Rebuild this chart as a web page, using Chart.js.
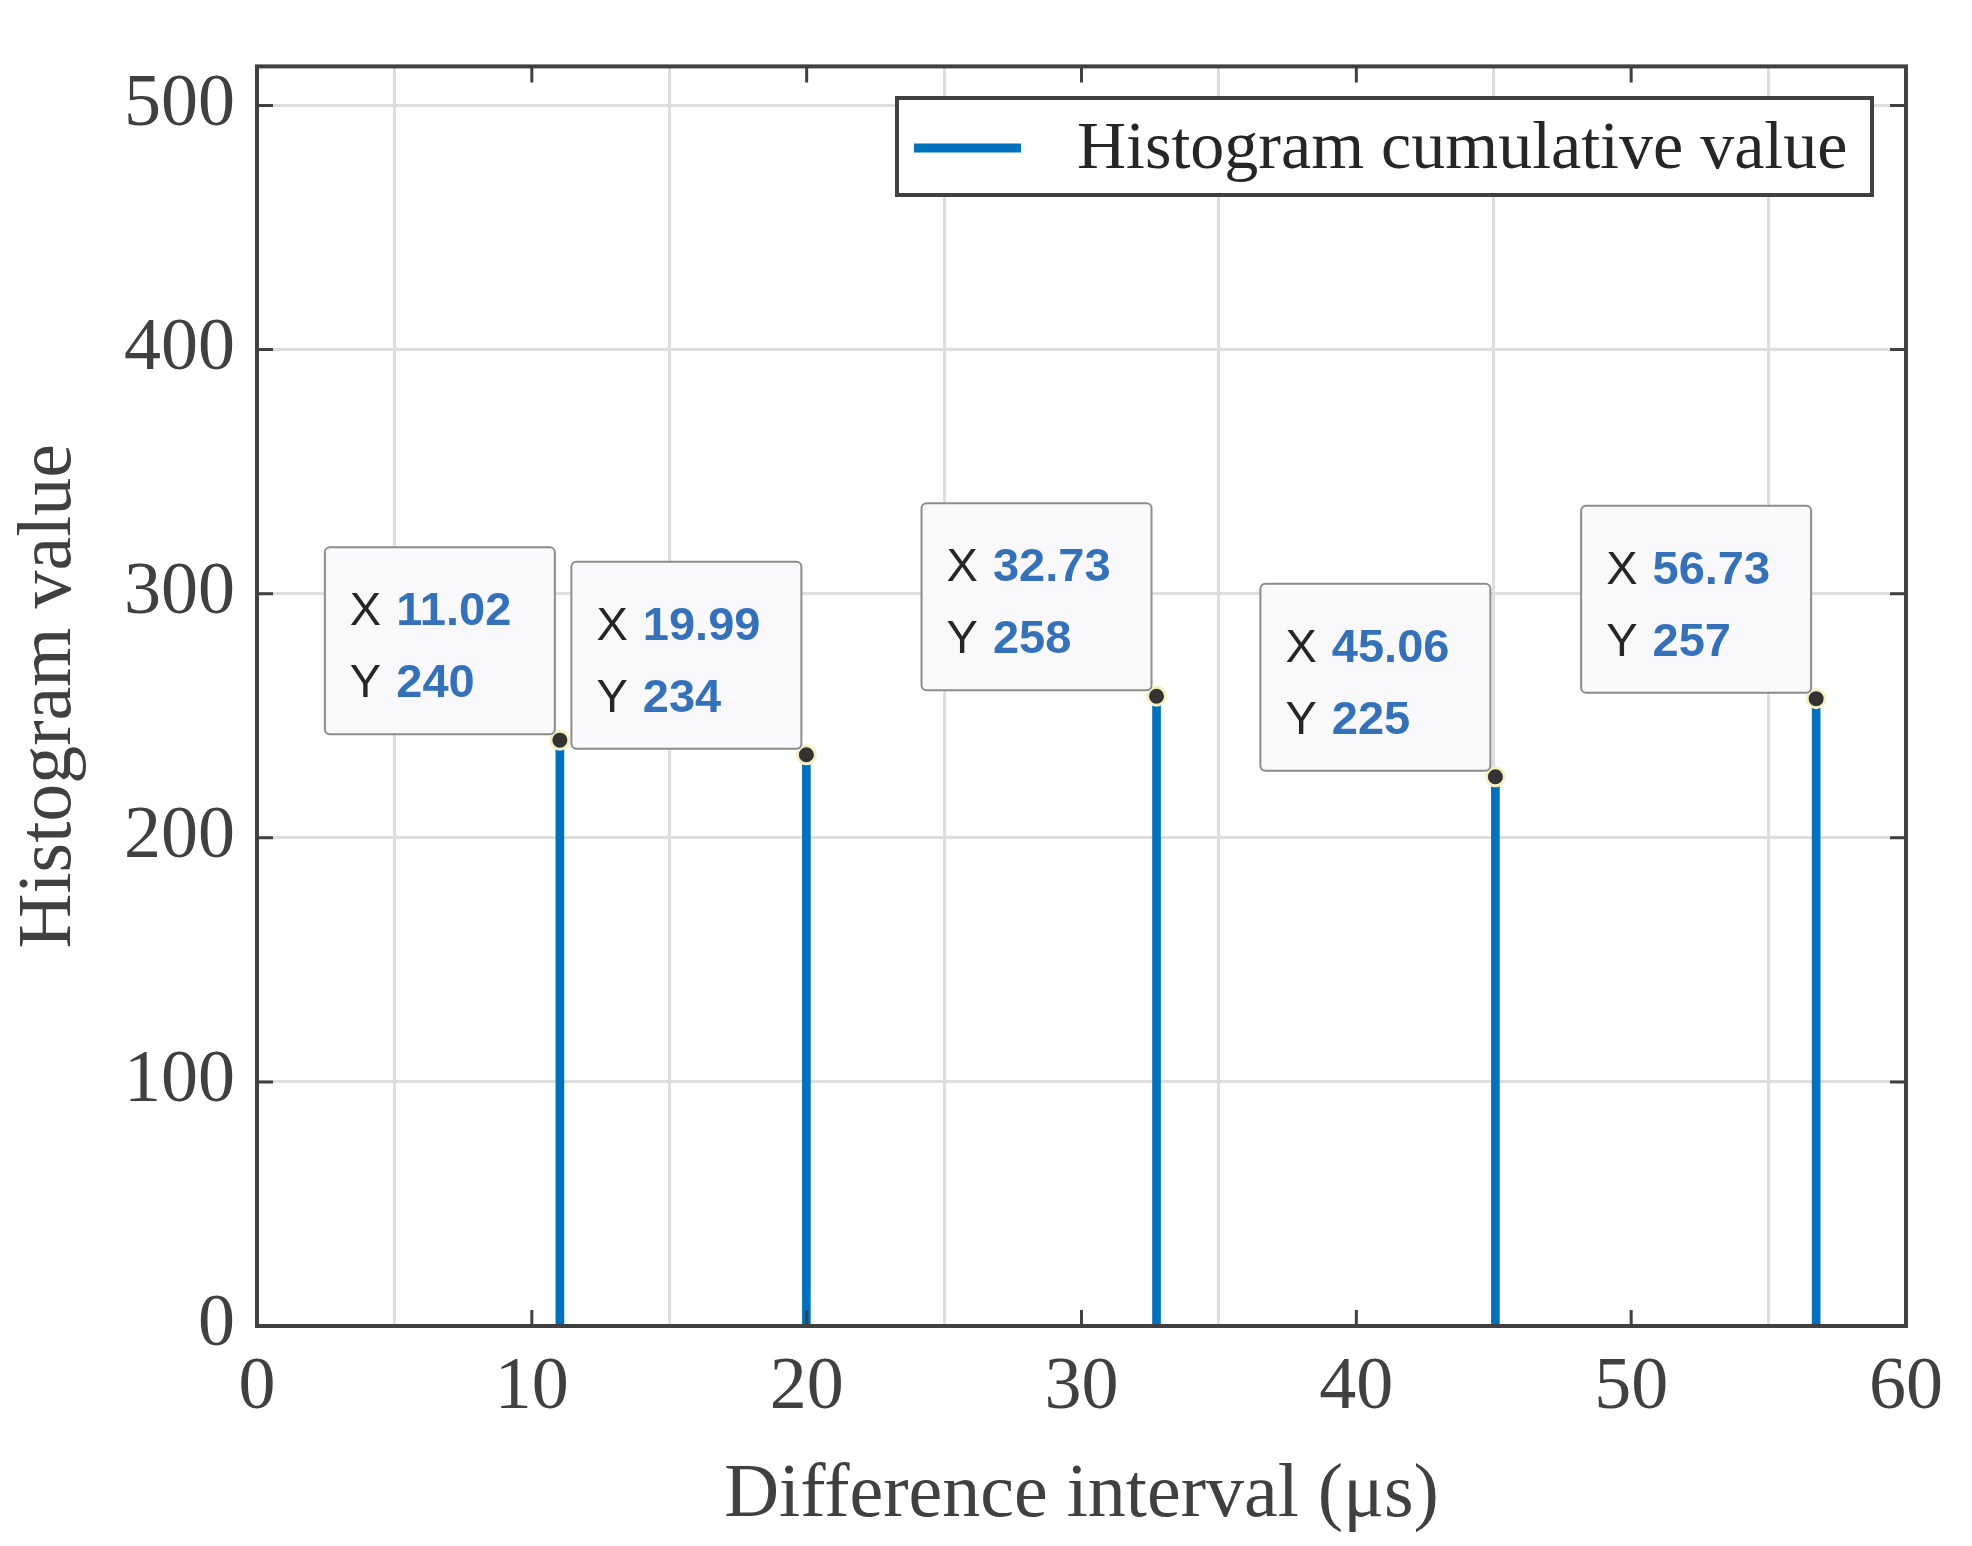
<!DOCTYPE html>
<html><head><meta charset="utf-8">
<script src="https://cdn.jsdelivr.net/npm/chart.js@4/dist/chart.umd.min.js"></script>
<style>html,body{margin:0;padding:0;background:#fff}#wrap{width:1972px;height:1546px}</style>
</head><body><div id="wrap"><canvas id="c" width="1972" height="1546"></canvas></div>
<script>
const xValues = [11.02, 19.99, 32.73, 45.06, 56.73];
const yValues = [240, 234, 258, 225, 257];
const xTicks = [0, 10, 20, 30, 40, 50, 60];
const yTicks = [0, 100, 200, 300, 400, 500];
const seriesLabel = 'Histogram cumulative value';
const xTitle = 'Difference interval (μs)';
const yTitle = 'Histogram value';

const pts = xValues.map((x, i) => ({x, y: yValues[i]}));
const AX = '#404040';
const serif = '"Liberation Serif", "DejaVu Serif", serif';

const decor = {
  id: 'decor',
  afterDraw(chart) {
    const {ctx, chartArea: a, scales} = chart;
    ctx.save();
    ctx.strokeStyle = AX; ctx.lineWidth = 4;
    ctx.strokeRect(a.left, a.top, a.right - a.left, a.bottom - a.top);
    ctx.lineWidth = 3;
    xTicks.forEach(v => { const p = scales.x.getPixelForValue(v);
      ctx.beginPath(); ctx.moveTo(p, a.bottom); ctx.lineTo(p, a.bottom - 16);
      ctx.moveTo(p, a.top); ctx.lineTo(p, a.top + 16); ctx.stroke(); });
    yTicks.forEach(v => { const p = scales.y.getPixelForValue(v);
      ctx.beginPath(); ctx.moveTo(a.left, p); ctx.lineTo(a.left + 16, p);
      ctx.moveTo(a.right, p); ctx.lineTo(a.right - 16, p); ctx.stroke(); });
    pts.forEach(pt => {
      const px = scales.x.getPixelForValue(pt.x), py = scales.y.getPixelForValue(pt.y);
      const w = 230, h = 187, bx = px - 5 - w, by = py - 6 - h;
      ctx.fillStyle = '#f9f9fc'; ctx.strokeStyle = '#8c8c8c'; ctx.lineWidth = 2;
      ctx.beginPath(); ctx.roundRect(bx, by, w, h, 5); ctx.fill(); ctx.stroke();
      ctx.textBaseline = 'alphabetic'; ctx.textAlign = 'left';
      const f = '"Liberation Sans", Arial, sans-serif';
      [['X ', pt.x.toFixed(2), 78], ['Y ', String(pt.y), 150]].forEach(([k, v, dy]) => {
        ctx.font = '47px ' + f; ctx.fillStyle = '#262626';
        ctx.fillText(k, bx + 25, by + dy);
        const kw = ctx.measureText(k).width;
        ctx.font = 'bold 47px ' + f; ctx.fillStyle = '#3471b8';
        ctx.fillText(v, bx + 25 + kw + 2, by + dy);
      });
    });
    const lx = 897, ly = 98, lw = 975, lh = 97;
    ctx.fillStyle = '#fff'; ctx.fillRect(lx, ly, lw, lh);
    ctx.strokeStyle = AX; ctx.lineWidth = 4; ctx.strokeRect(lx, ly, lw, lh);
    ctx.strokeStyle = '#0072bd'; ctx.lineWidth = 9;
    ctx.beginPath(); ctx.moveTo(lx + 17, ly + 50); ctx.lineTo(lx + 124, ly + 50); ctx.stroke();
    ctx.fillStyle = '#262626'; ctx.font = '68px ' + serif; ctx.textBaseline = 'middle';
    ctx.fillText(seriesLabel, lx + 180, ly + 52);
    ctx.restore();
  }
};

new Chart(document.getElementById('c'), {
  type: 'bar',
  data: { datasets: [
    { type: 'scatter', data: pts, pointRadius: 9, pointBackgroundColor: '#333',
      pointBorderColor: '#f4f0c4', pointBorderWidth: 3, order: 0 },
    { type: 'bar', data: pts, backgroundColor: '#0072bd', barThickness: 8, order: 1 }
  ]},
  options: {
    responsive: false, animation: false, devicePixelRatio: 1,
    layout: { padding: { top: 57, right: 66, left: 0, bottom: 0 } },
    plugins: { legend: { display: false }, tooltip: { enabled: false } },
    scales: {
      x: { type: 'linear', min: 0, max: 60, offset: false,
        afterFit: s => { s.height = 220; },
        grid: { color: '#dedede', lineWidth: 3, drawTicks: false },
        border: { display: false },
        ticks: { stepSize: 10, autoSkip: false, color: AX, font: { family: serif, size: 74 }, padding: 18, maxRotation: 0 },
        title: { display: true, text: xTitle, color: AX, font: { family: serif, size: 76 }, padding: { top: 0 } } },
      y: { min: 0, max: 516,
        afterBuildTicks: s => { s.ticks = yTicks.map(v => ({value: v})); },
        afterFit: s => { s.width = 257; },
        grid: { color: '#dedede', lineWidth: 3, drawTicks: false },
        border: { display: false },
        ticks: { autoSkip: false, color: AX, font: { family: serif, size: 74 }, padding: 22 },
        title: { display: true, text: yTitle, color: AX, font: { family: serif, size: 76 }, padding: { bottom: 0 } } }
    }
  },
  plugins: [decor]
});
</script></body></html>
